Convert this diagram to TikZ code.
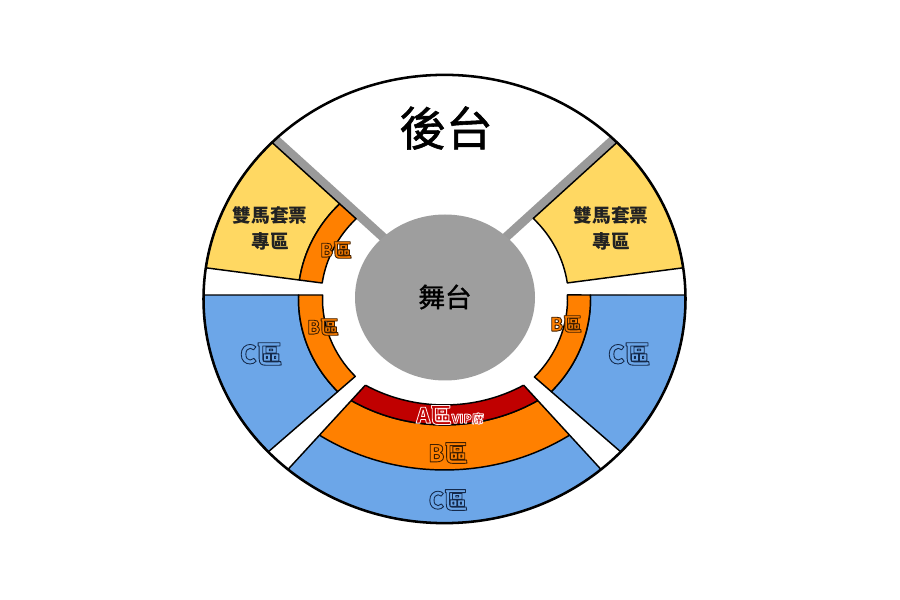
\documentclass[tikz,border=0pt]{standalone}
\usepackage{fontspec}
\setmainfont{Noto Sans CJK TC}
\newfontfamily\medfont{Noto Sans CJK TC}[FakeBold=1.2]
\definecolor{yel}{HTML}{FFD862}
\definecolor{org}{HTML}{FF8000}
\definecolor{blu}{HTML}{6CA6E8}
\definecolor{vip}{HTML}{C00000}
\definecolor{stg}{HTML}{9E9E9E}
\definecolor{barcol}{HTML}{9A9A9A}
\definecolor{txtdark}{HTML}{222222}
% outlined text: #1 stroke rgb, #2 fill colour, #3 text
\newcommand{\olt}[3]{{\bfseries\color{#2}\special{pdf:code q #1 RG 2 Tr 0.65 w 1 j}#3\special{pdf:code Q}}}
\newcommand{\bdk}{0.25 0.12 0}
\newcommand{\cdk}{0.08 0.16 0.29}
\newcommand{\wht}{1 0.92 0.92}
\tikzset{
  seat/.style={draw=black, line width=1.1pt, line join=round},
  lbl/.style={inner sep=0pt, align=center},
  blabel/.style={lbl, font=\fontsize{14}{14}\selectfont},
  clabel/.style={lbl, font=\fontsize{19}{19}\selectfont},
  ylabel/.style={lbl, text=txtdark, font=\fontsize{14}{19}\selectfont\bfseries},
}
\begin{document}
\begin{tikzpicture}[x=0.75pt,y=0.75pt]
\useasboundingbox (0,0) rectangle (900,600);
\fill[white] (0,0) rectangle (900,600);
% gray bars
\begin{scope}
  \clip (444.5,301) ellipse [x radius=241, y radius=224.13];
  \draw[barcol, line width=6.75pt] (447.5,304.3) -- (255,479.1);
  \draw[barcol, line width=6.75pt] (441.5,304.3) -- (634,479.1);
\end{scope}
% seating sectors
\begin{scope}[shift={(444.5,301)}, yscale=0.93]
  % upper left
  \filldraw[seat, fill=yel] (135.7:146.5) -- (135.7:241) arc[start angle=135.7, end angle=172, radius=241] -- (172:146.5) arc[start angle=172, end angle=135.7, radius=146.5] -- cycle;
  \filldraw[seat, fill=org] (135.7:123.5) -- (135.7:146.5) arc[start angle=135.7, end angle=172, radius=146.5] -- (172:123.5) arc[start angle=172, end angle=135.7, radius=123.5] -- cycle;
  % upper right
  \filldraw[seat, fill=yel] (44.3:124) -- (44.3:241) arc[start angle=44.3, end angle=8, radius=241] -- (8:124) arc[start angle=8, end angle=44.3, radius=124] -- cycle;
  % middle left
  \filldraw[seat, fill=blu] (178.98:241) arc[start angle=178.98, end angle=223, radius=241] -- (223:146) arc[start angle=223, end angle=178.31, radius=146] -- cycle;
  \filldraw[seat, fill=org] (178.31:146) arc[start angle=178.31, end angle=223, radius=146] -- (223:122) arc[start angle=223, end angle=177.98, radius=122] -- cycle;
  % middle right
  \filldraw[seat, fill=blu] (1.02:241) arc[start angle=1.02, end angle=-43, radius=241] -- (-43:146) arc[start angle=-43, end angle=1.69, radius=146] -- cycle;
  \filldraw[seat, fill=org] (1.69:146) arc[start angle=1.69, end angle=-43, radius=146] -- (-43:123) arc[start angle=-43, end angle=2.02, radius=123] -- cycle;
  % bottom
  \begin{scope}
    \clip (0,0) -- (229.5:400) -- (270:400) -- (310.5:400) -- cycle;
    \fill[blu, even odd rule] (0,0) circle[radius=241] (0,43.66) circle[radius=227.5];
    \filldraw[seat, fill=org, even odd rule] (0,43.66) circle[radius=227.5] (0,43.66) circle[radius=179];
    \filldraw[seat, fill=vip, even odd rule] (0,43.66) circle[radius=179] (0,43.66) circle[radius=157.6];
  \end{scope}
  \draw[seat] (229.5:121.9) -- (229.5:241);
  \draw[seat] (310.5:121.9) -- (310.5:241);
\end{scope}
% stage
\fill[stg] (445,302.5) ellipse [x radius=90, y radius=83];
% outer boundary
\draw[line width=1.9pt] (444.5,301) ellipse [x radius=241, y radius=224.13];
% texts
\node[lbl, font=\fontsize{35}{40}\medfont] (backstage) at (446,472) {後台};
\node[lbl, font=\fontsize{20}{24}\medfont] (stage) at (445,303) {舞台};
\node[ylabel] (pairL) at (270,371.5) {雙馬套票\\專區};
\node[ylabel] (pairR) at (611,371.5) {雙馬套票\\專區};
\node[blabel] (bUL) at (336,350) {\olt{\bdk}{org}{B區}};
\node[blabel] (bML) at (323,273) {\olt{\bdk}{org}{B區}};
\node[blabel] (bMR) at (566,276) {\olt{\bdk}{org}{B區}};
\node[clabel] (cL) at (261,246) {\olt{\cdk}{blu}{C區}};
\node[clabel] (cR) at (629,246) {\olt{\cdk}{blu}{C區}};
\node[lbl, font=\fontsize{16}{16}\selectfont] (aVip) at (450,185) {\olt{\wht}{vip}{A區{\fontsize{9}{9}\selectfont VIP席}}};
\node[lbl, font=\fontsize{17.5}{17.5}\selectfont] (bBot) at (448,147) {\olt{\bdk}{org}{B區}};
\node[lbl, font=\fontsize{17.5}{17.5}\selectfont] (cBot) at (448,100) {\olt{\cdk}{blu}{C區}};
\end{tikzpicture}
\end{document}
